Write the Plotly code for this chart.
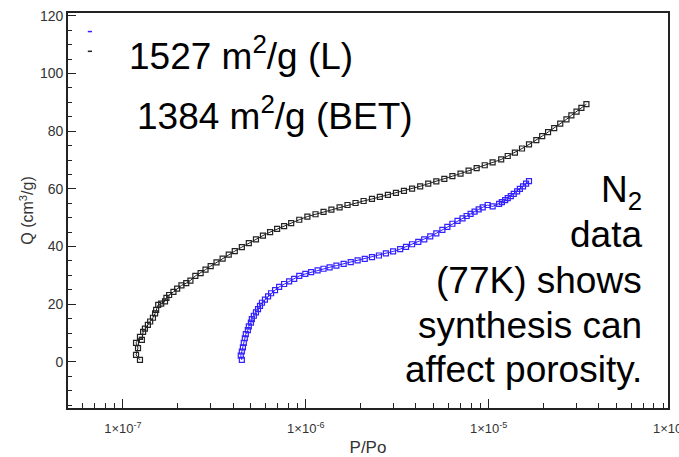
import plotly.graph_objects as go

# Black series (P/Po, Q)
black_p = [1.24e-7, 1.18e-7, 1.21e-7, 1.18e-7, 1.24e-7, 1.27e-7, 1.29e-7, 1.32e-7, 1.37e-7, 1.41e-7,
           1.46e-7, 1.50e-7, 1.52e-7, 1.56e-7, 1.62e-7, 1.70e-7, 1.73e-7, 1.79e-7, 1.89e-7, 1.98e-7,
           2.09e-7, 2.22e-7, 2.34e-7, 2.49e-7, 2.66e-7, 2.83e-7, 3.02e-7, 3.25e-7, 3.51e-7, 3.79e-7,
           4.09e-7, 4.47e-7, 4.88e-7, 5.34e-7, 5.83e-7, 6.38e-7, 6.97e-7, 7.61e-7, 8.32e-7, 9.21e-7,
           1.02e-6, 1.13e-6, 1.25e-6, 1.38e-6, 1.53e-6, 1.69e-6, 1.87e-6, 2.07e-6, 2.30e-6, 2.54e-6,
           2.81e-6, 3.11e-6, 3.44e-6, 3.81e-6, 4.22e-6, 4.67e-6, 5.17e-6, 5.72e-6, 6.33e-6, 7.01e-6,
           7.76e-6, 8.59e-6, 9.51e-6, 1.05e-5, 1.17e-5, 1.27e-5, 1.39e-5, 1.52e-5, 1.66e-5, 1.82e-5,
           1.96e-5, 2.11e-5, 2.28e-5, 2.46e-5, 2.66e-5, 2.83e-5, 3.02e-5, 3.21e-5, 3.42e-5]
black_q = [0.7, 2.4, 4.8, 6.6, 8.7, 7.6, 10.4, 11.5, 12.8, 14.0,
           15.3, 16.8, 18.0, 19.8, 20.2, 21.0, 22.2, 23.2, 24.3, 25.4,
           26.5, 27.3, 28.2, 29.8, 30.8, 32.0, 33.2, 34.5, 35.8, 37.2,
           38.4, 39.8, 41.2, 42.5, 43.8, 45.0, 46.1, 47.1, 48.1, 49.3,
           50.4, 51.2, 52.0, 52.8, 53.6, 54.4, 55.1, 55.8, 56.5, 57.2,
           57.9, 58.6, 59.3, 60.1, 60.9, 61.8, 62.6, 63.5, 64.4, 65.3,
           66.3, 67.2, 68.2, 69.2, 70.2, 71.4, 72.6, 74.0, 75.4, 76.9,
           78.3, 79.7, 81.1, 82.6, 84.1, 85.5, 86.8, 88.1, 89.4]

# Blue series (P/Po, Q)
blue_p = [4.47e-7, 4.41e-7, 4.47e-7, 4.53e-7, 4.58e-7, 4.64e-7, 4.70e-7, 4.82e-7, 4.88e-7, 5.01e-7,
          5.07e-7, 5.20e-7, 5.34e-7, 5.48e-7, 5.62e-7, 5.76e-7, 5.98e-7, 6.22e-7, 6.46e-7, 6.79e-7,
          7.15e-7, 7.61e-7, 8.11e-7, 8.64e-7, 9.21e-7, 9.94e-7, 1.07e-6, 1.16e-6, 1.25e-6, 1.35e-6,
          1.47e-6, 1.61e-6, 1.76e-6, 1.92e-6, 2.10e-6, 2.30e-6, 2.51e-6, 2.74e-6, 3.00e-6, 3.28e-6,
          3.53e-6, 3.81e-6, 4.12e-6, 4.44e-6, 4.79e-6, 5.17e-6, 5.58e-6, 5.94e-6, 6.33e-6, 6.75e-6,
          7.19e-6, 7.57e-6, 7.96e-6, 8.37e-6, 8.81e-6, 9.27e-6, 9.87e-6, 1.05e-5, 1.14e-5, 1.18e-5,
          1.23e-5, 1.27e-5, 1.32e-5, 1.37e-5, 1.43e-5, 1.48e-5, 1.54e-5, 1.60e-5, 1.66e-5]
blue_q = [0.7, 2.2, 3.6, 5.0, 6.6, 8.2, 9.6, 11.0, 12.3, 13.6,
          14.8, 16.0, 17.2, 18.3, 19.4, 20.5, 21.6, 22.7, 23.8, 24.9,
          26.0, 27.0, 27.9, 28.8, 29.8, 30.5, 31.1, 31.7, 32.3, 32.8,
          33.4, 34.0, 34.6, 35.2, 35.7, 36.3, 36.9, 37.6, 38.3, 39.1,
          39.9, 40.8, 41.6, 42.5, 43.5, 44.6, 45.8, 46.8, 47.9, 48.9,
          49.8, 50.6, 51.3, 52.1, 52.9, 53.6, 54.4, 53.9, 54.8, 55.4,
          56.1, 56.8, 57.5, 58.3, 59.1, 60.0, 60.9, 61.8, 62.7]

x_tickvals = [1e-7, 1e-6, 1e-5]
x_ticktext = ["1×10<sup>-7</sup>", "1×10<sup>-6</sup>", "1×10<sup>-5</sup>"]
x_edge_label = "1×10<sup>-4</sup>"
x_minor_vals = [6e-8, 7e-8, 8e-8, 9e-8,
                2e-7, 3e-7, 4e-7, 5e-7, 6e-7, 7e-7, 8e-7, 9e-7,
                2e-6, 3e-6, 4e-6, 5e-6, 6e-6, 7e-6, 8e-6, 9e-6,
                2e-5, 3e-5, 4e-5, 5e-5, 6e-5, 7e-5, 8e-5, 9e-5]
y_tickvals = [0, 20, 40, 60, 80, 100, 120]

right_lines = ["N<sub>2</sub>", "data", "(77K) shows", "synthesis can", "affect porosity."]
right_line_y = [0.548, 0.439, 0.323, 0.209, 0.0975]

FONT = "Liberation Sans, Arial, sans-serif"
X_RANGE = [-7.30, -4.02]

fig = go.Figure()
fig.add_trace(go.Scatter(
    x=black_p, y=black_q, mode="lines+markers",
    line=dict(color="#222222", width=1),
    marker=dict(symbol="square-open", size=5, color="#222222", line=dict(width=1.2)),
    showlegend=False))
fig.add_trace(go.Scatter(
    x=blue_p, y=blue_q, mode="lines+markers",
    line=dict(color="#3320ff", width=1),
    marker=dict(symbol="square-open", size=5, color="#3320ff", line=dict(width=1.2)),
    showlegend=False))

fig.update_layout(
    width=679, height=457,
    margin=dict(l=68, r=11, t=13, b=49),
    paper_bgcolor="white", plot_bgcolor="white",
    font=dict(family=FONT, color="#222222"),
    xaxis=dict(
        type="log", range=X_RANGE, automargin=False,
        tickvals=x_tickvals, ticktext=x_ticktext,
        ticks="inside", ticklen=9, tickwidth=1.3, tickcolor="#222",
        ticklabelstandoff=8,
        minor=dict(tickvals=x_minor_vals, ticks="inside", ticklen=5, tickcolor="#222", showgrid=False),
        showgrid=False, zeroline=False,
        showline=True, linecolor="#222", linewidth=1.6, mirror=True,
        tickfont=dict(size=13, color="#333"),
        title=dict(text="P/Po", font=dict(size=17, color="#333"), standoff=7),
    ),
    yaxis=dict(
        range=[-16, 121], automargin=False,
        tickvals=y_tickvals,
        ticks="inside", ticklen=8, tickwidth=1.3, tickcolor="#222",
        minor=dict(ticks="inside", ticklen=4, dtick=5, tickcolor="#222", showgrid=False),
        showgrid=False, zeroline=False,
        showline=True, linecolor="#222", linewidth=1.6, mirror=True,
        tickfont=dict(size=14, color="#333"),
        title=dict(text="Q (cm<sup>3</sup>/g)", font=dict(size=16, color="#333"), standoff=2),
    ),
)

# edge tick label at 1e-4 (just beyond the right end of the axis, partly cut off by the page edge)
edge_paper_x = (-4 - X_RANGE[0]) / (X_RANGE[1] - X_RANGE[0])
fig.add_annotation(xref="paper", yref="paper", x=edge_paper_x, y=0, xanchor="center", yanchor="top",
                   yshift=-10, text=x_edge_label, showarrow=False, font=dict(size=13, color="#333"))

fig.add_shape(type="line", xref="paper", yref="paper", x0=0.033, x1=0.040, y0=0.953, y1=0.953,
              line=dict(color="#3320ff", width=1.5))
fig.add_shape(type="line", xref="paper", yref="paper", x0=0.033, x1=0.040, y0=0.903, y1=0.903,
              line=dict(color="#222222", width=1.5))

fig.add_annotation(xref="paper", yref="paper", x=0.098, y=0.898, xanchor="left", yanchor="middle",
                   text="1527 m<sup>2</sup>/g (L)", showarrow=False,
                   font=dict(size=37, color="black", family=FONT))
fig.add_annotation(xref="paper", yref="paper", x=0.112, y=0.746, xanchor="left", yanchor="middle",
                   text="1384 m<sup>2</sup>/g (BET)", showarrow=False,
                   font=dict(size=37, color="black", family=FONT))
for txt, yy in zip(right_lines, right_line_y):
    fig.add_annotation(xref="paper", yref="paper", x=0.96, y=yy, xanchor="right", yanchor="middle",
                       align="right", text=txt, showarrow=False,
                       font=dict(size=37, color="black", family=FONT))

fig.write_html("out.html")
